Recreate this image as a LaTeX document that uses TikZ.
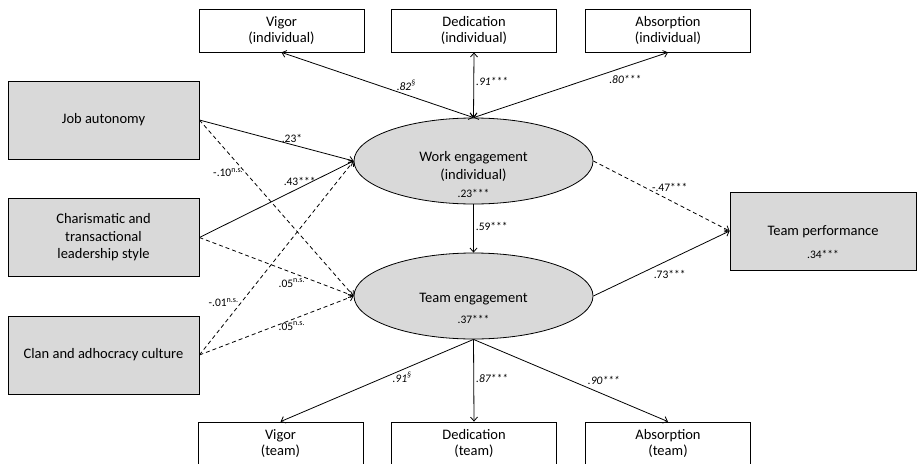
\documentclass[tikz,border=0pt]{standalone}
\usepackage{fontspec}
\setmainfont{Carlito}
\usetikzlibrary{positioning,shapes.geometric,arrows.meta}
\definecolor{boxgray}{HTML}{D9D9D9}
\newcommand{\ns}{\textsuperscript{n.s.}}
\newcommand{\sig}{\textsuperscript{\S}}

\begin{document}
\begin{tikzpicture}[x=1pt, y=-1pt, >={Straight Barb[length=4pt,width=7pt]},
  every box/.style={draw, line width=0.8pt, minimum width=165pt, minimum height=43pt,
    inner sep=0pt, align=center, font=\fontsize{14.5}{16}\selectfont},
  predictor/.style={every box, fill=boxgray, minimum width=191pt, minimum height=78pt,
    font=\fontsize{14.5}{17.5}\selectfont},
  latent/.style={draw, ellipse, fill=boxgray, line width=0.8pt, inner sep=0pt,
    minimum width=239pt, minimum height=86pt},
  coef/.style={font=\fontsize{11.5}{13}\selectfont, inner sep=2pt},
  loading/.style={coef, font=\fontsize{11.5}{13}\selectfont\itshape},
  link/.style={line width=0.8pt, ->},
  nslink/.style={link, dash pattern=on 4pt off 3pt}]
\useasboundingbox (0,0) rectangle (917,463);

% indicators of work engagement (top) and team engagement (bottom)
\foreach \m/\x in {Vigor/281.5, Dedication/474, Absorption/668}
  \node [every box] (ind-\m) at (\x,30.5) {\m\\(individual)};

\foreach \m/\x in {Vigor/280.5, Dedication/474, Absorption/668}
  \node [every box] (grp-\m) at (\x,443.5) {\m\\(team)};

% predictors
\foreach \l/\y [count=\i] in {{Job autonomy}/120,
    {Charismatic and\\transactional\\leadership style}/237.5,
    {Clan and adhocracy culture}/355}
  \node [predictor] (pred-\i) at (103.5,\y) {\l};

% latent variables and outcome
\node [latent] (work) at (473.5,161) {};
\node [align=center, font=\fontsize{14.5}{18}\selectfont] (work-text) at ([yshift=-14pt]work.center)
  {Work engagement\\(individual)\\{\fontsize{11.5}{13}\selectfont .23***}};

\node [latent] (team) at (473.5,296) {};
\node [align=center, font=\fontsize{14.5}{21}\selectfont] (team-text) at ([yshift=-12pt]team.center)
  {Team engagement\\{\fontsize{11.5}{13}\selectfont .37***}};

\node [predictor, minimum width=186pt] (perf) at (823,231) {};
\node [align=center, font=\fontsize{14.5}{23}\selectfont] (perf-text) at ([yshift=-11pt]perf.center)
  {Team performance\\{\fontsize{11.5}{13}\selectfont .34***}};

% measurement model
\draw [<->, line width=0.8pt] (work.north) -- (ind-Vigor.south)
  node [loading, above=2pt, pos=.35] {.82\sig};
\draw [<->, line width=0.8pt] (work.north) -- (ind-Dedication.south)
  node [loading, right, pos=.55] {.91***};
\draw [<->, line width=0.8pt] (work.north) -- (ind-Absorption.south)
  node [loading, below=6pt, pos=.78] {.80***};

\draw [link] (team.south) -- (grp-Vigor.north)
  node [loading, below, pos=.37] {.91\sig};
\draw [link] (team.south) -- (grp-Dedication.north)
  node [loading, right, pos=.47] {.87***};
\draw [link] (team.south) -- (grp-Absorption.north)
  node [loading, above=7pt, pos=.67] {.90***};

% structural paths
\draw [link] (pred-1.east) -- (work.west) node [coef, above, pos=.6] {.23*};
\draw [link] (pred-2.east) -- (work.west) node [coef, above, pos=.65] {.43***};
\draw [nslink] (pred-3.east) -- (work.west) node [coef, left, pos=.27] {-.01\ns};
\draw [nslink] (pred-1.east) -- (team.west) node [coef, left, pos=.3] {-.10\ns};
\draw [nslink] (pred-2.east) -- (team.west) node [coef, below=4pt, pos=.6] {.05\ns};
\draw [nslink] (pred-3.east) -- (team.west) node [coef, below, pos=.6] {.05\ns};

\draw [link] (work.south) -- (team.north) node [coef, right, pos=.45] {.59***};
\draw [nslink] (work.east) -- (perf.west) node [coef, above=6pt, pos=.56] {-.47***};
\draw [link] (team.east) -- (perf.west) node [coef, below=8pt, pos=.56] {.73***};
\end{tikzpicture}
\end{document}
